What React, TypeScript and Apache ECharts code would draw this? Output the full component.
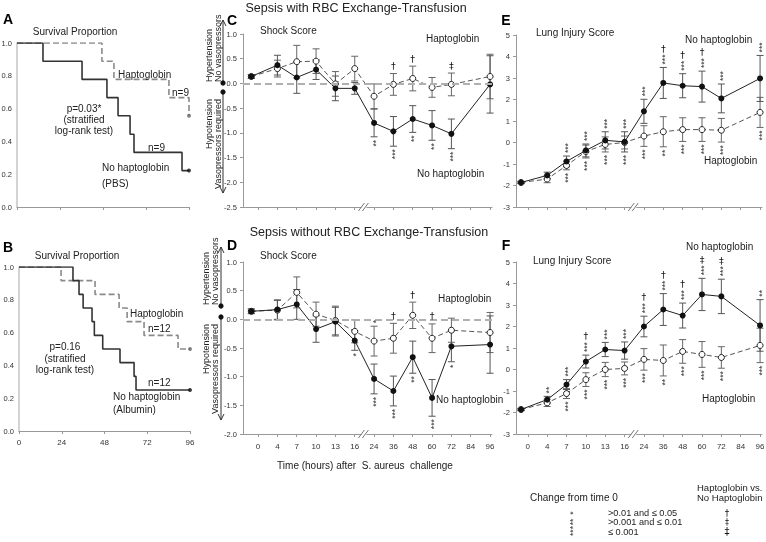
import React, { useEffect, useRef } from 'react';
import * as echarts from 'echarts';

const FONT = '"Liberation Sans", Arial, Helvetica, sans-serif';
const SYM_FONT = '"DejaVu Sans", "Liberation Sans", sans-serif';

// ---------- Survival (Kaplan-Meier) data ----------
const survTicks = [0, 24, 48, 72, 96];
const aNoHpTime = [0, 14.5, 36.3, 50.2, 56.4, 63.1, 65.3, 92.1, 96];
const aNoHpSurv = [1, 0.889, 0.778, 0.667, 0.556, 0.444, 0.333, 0.222, 0.222];
const aHpTime = [0, 47.4, 54.1, 84.8, 96];
const aHpSurv = [1, 0.889, 0.778, 0.667, 0.556];
const bNoHpTime = [0, 30.3, 33.7, 36.0, 41.0, 42.3, 47.0, 56.7, 64.6, 65.7, 96];
const bNoHpSurv = [1, 0.917, 0.833, 0.75, 0.667, 0.583, 0.5, 0.417, 0.333, 0.25, 0.25];
const bHpTime = [0, 23.6, 42.7, 56.2, 60.7, 70.2, 89.3, 96];
const bHpSurv = [1, 0.917, 0.833, 0.75, 0.667, 0.583, 0.5, 0.5];

// ---------- Time course axes ----------
const timeTicks = ['0', '4', '7', '10', '13', '16', '24', '36', '48', '60', '72', '84', '96'];
const sampleHours = ['0', '4', '7', '10', '13', '16', '24', '36', '48', '60', '72', '96'];

// ---------- C: Shock score, with exchange transfusion ----------
const cNoHp = [0.14, 0.37, 0.12, 0.28, -0.10, -0.10, -0.80, -0.97, -0.72, -0.85, -1.02, -0.02];
const cNoHpSE = [0.04, 0.2, 0.32, 0.2, 0.25, 0.12, 0.28, 0.3, 0.27, 0.3, 0.3, 0.58];
const cHp = [0.14, 0.30, 0.44, 0.45, -0.01, 0.30, -0.26, -0.02, 0.10, -0.08, -0.02, 0.14];
const cHpSE = [0.04, 0.17, 0.33, 0.25, 0.25, 0.25, 0.25, 0.22, 0.25, 0.2, 0.23, 0.45];
const cAbove = ['', '', '', '', '', '', '', '†', '†', '', '‡', ''];
const cBelow = ['', '', '', '', '', '', '**', '***', '**', '**', '***', ''];

// ---------- D: Shock score, without exchange transfusion ----------
const dNoHp = [0.14, 0.17, 0.26, -0.17, -0.04, -0.37, -1.04, -1.25, -0.66, -1.37, -0.47, -0.44];
const dNoHpSE = [0.04, 0.17, 0.26, 0.23, 0.25, 0.17, 0.26, 0.26, 0.28, 0.32, 0.27, 0.5];
const dHp = [0.14, 0.16, 0.47, 0.09, -0.02, -0.21, -0.38, -0.33, 0.07, -0.33, -0.19, -0.23];
const dHpSE = [0.04, 0.17, 0.27, 0.21, 0.25, 0.2, 0.26, 0.26, 0.23, 0.25, 0.21, 0.35];
const dAbove = ['', '', '', '', '', '', '*', '†', '†', '†', '', ''];
const dBelow = ['', '', '', '', '', '*', '***', '***', '**', '***', '*', ''];

// ---------- E: Lung injury score, with exchange transfusion ----------
const eNoHp = [-1.86, -1.53, -0.88, -0.37, 0.10, 0.03, 1.45, 2.77, 2.64, 2.60, 2.05, 2.98];
const eNoHpSE = [0.05, 0.15, 0.25, 0.3, 0.4, 0.47, 0.56, 0.72, 0.56, 0.72, 0.67, 1.07];
const eHp = [-1.86, -1.70, -1.07, -0.42, -0.09, 0.0, 0.30, 0.50, 0.60, 0.60, 0.57, 1.40];
const eHpSE = [0.05, 0.17, 0.2, 0.3, 0.35, 0.3, 0.48, 0.7, 0.55, 0.55, 0.55, 0.7];
const eAbove = ['', '', '***', '***', '***', '***', '***', '†***', '†***', '†***', '***', '***'];
const eBelow = ['', '', '***', '***', '***', '***', '***', '**', '***', '***', '***', '***'];

// ---------- F: Lung injury score, without exchange transfusion ----------
const fNoHp = [-1.86, -1.40, -0.70, 0.37, 0.93, 0.88, 2.00, 2.79, 2.51, 3.49, 3.40, 2.05];
const fNoHpSE = [0.05, 0.15, 0.23, 0.3, 0.33, 0.4, 0.48, 0.74, 0.58, 0.75, 0.8, 1.2];
const fHp = [-1.86, -1.55, -1.12, -0.47, 0.0, 0.05, 0.47, 0.42, 0.84, 0.70, 0.56, 1.12];
const fHpSE = [0.05, 0.17, 0.23, 0.32, 0.33, 0.3, 0.5, 0.72, 0.55, 0.6, 0.5, 0.8];
const fAbove = ['', '**', '***', '†***', '***', '***', '†***', '†***', '†***', '‡***', '‡***', '**'];
const fBelow = ['', '', '***', '***', '***', '***', '***', '**', '***', '***', '***', '***'];

// ---------- layout ----------
const BASE_POS = -0.35;
const posOf = (h: string) => (h === '0' ? BASE_POS : timeTicks.indexOf(h));

const GRIDS = [
  { left: 17, top: 43, width: 172, height: 164 }, // A
  { left: 19, top: 267, width: 171, height: 164 }, // B
  { left: 243, top: 34, width: 249, height: 173 }, // C
  { left: 243, top: 262, width: 249, height: 172 }, // D
  { left: 516, top: 35, width: 246, height: 172 }, // E
  { left: 516, top: 262, width: 246, height: 172 }, // F
];
const CD_X = { min: -0.78, max: 12.1 };
const EF_X = { min: -0.61, max: 12.1 };

const PANELS = [
  { gi: 2, noHp: cNoHp, noHpSE: cNoHpSE, hp: cHp, hpSE: cHpSE, above: cAbove, below: cBelow, zero: true },
  { gi: 3, noHp: dNoHp, noHpSE: dNoHpSE, hp: dHp, hpSE: dHpSE, above: dAbove, below: dBelow, zero: true },
  { gi: 4, noHp: eNoHp, noHpSE: eNoHpSE, hp: eHp, hpSE: eHpSE, above: eAbove, below: eBelow, zero: false },
  { gi: 5, noHp: fNoHp, noHpSE: fNoHpSE, hp: fHp, hpSE: fHpSE, above: fAbove, below: fBelow, zero: false },
];

const errRender = (color: string) => (_params: any, api: any) => {
  const x = api.value(0);
  const lo = api.coord([x, api.value(1)]);
  const hi = api.coord([x, api.value(2)]);
  const w = 3.5;
  const style = { stroke: color, lineWidth: 1, fill: 'none' };
  return {
    type: 'group',
    children: [
      { type: 'line', shape: { x1: lo[0], y1: lo[1], x2: hi[0], y2: hi[1] }, style },
      { type: 'line', shape: { x1: lo[0] - w, y1: lo[1], x2: lo[0] + w, y2: lo[1] }, style },
      { type: 'line', shape: { x1: hi[0] - w, y1: hi[1], x2: hi[0] + w, y2: hi[1] }, style },
    ],
  };
};

function panelSeries(p: any) {
  const { gi, noHp, noHpSE, hp, hpSE, zero } = p;
  const xs = sampleHours.map(posOf);
  const out: any[] = [];
  if (zero) {
    out.push({
      type: 'line', xAxisIndex: gi, yAxisIndex: gi,
      data: xs.map((x, i) => [x, hp[i]]),
      showSymbol: false, lineStyle: { opacity: 0 }, silent: true, z: 1,
      markLine: {
        silent: true, symbol: ['none', 'none'], label: { show: false },
        lineStyle: { color: '#b0b0b0', width: 2, type: [7, 4] },
        data: [{ yAxis: 0 }],
      },
    });
  }
  out.push({
    type: 'custom', xAxisIndex: gi, yAxisIndex: gi, renderItem: errRender('#666'),
    data: xs.map((x, i) => [x, hp[i] - hpSE[i], hp[i] + hpSE[i]]),
    encode: { x: 0, y: [1, 2] }, z: 2,
  });
  out.push({
    type: 'custom', xAxisIndex: gi, yAxisIndex: gi, renderItem: errRender('#555'),
    data: xs.map((x, i) => [x, noHp[i] - noHpSE[i], noHp[i] + noHpSE[i]]),
    encode: { x: 0, y: [1, 2] }, z: 2,
  });
  out.push({
    type: 'line', xAxisIndex: gi, yAxisIndex: gi,
    data: xs.map((x, i) => [x, hp[i]]),
    symbol: 'circle', symbolSize: 6,
    lineStyle: { color: '#555', width: 1, type: [5, 3] },
    itemStyle: { color: '#fff', borderColor: '#222', borderWidth: 1 }, z: 3,
  });
  out.push({
    type: 'line', xAxisIndex: gi, yAxisIndex: gi,
    data: xs.map((x, i) => [x, noHp[i]]),
    symbol: 'circle', symbolSize: 6,
    lineStyle: { color: '#222', width: 1 },
    itemStyle: { color: '#111' }, z: 4,
  });
  return out;
}

const kmX = (gi: number, showLabels: boolean) => ({
  type: 'value', gridIndex: gi, min: survTicks[0], max: survTicks[survTicks.length - 1], interval: 24,
  axisLine: { onZero: false, lineStyle: { color: '#999' } },
  axisTick: { show: true, length: 3, lineStyle: { color: '#999' } },
  axisLabel: { show: showLabels, fontSize: 8, color: '#333', margin: 7, fontFamily: FONT },
  splitLine: { show: false },
});
const kmY = (gi: number) => ({
  type: 'value', gridIndex: gi, min: 0, max: 1, interval: 0.2,
  axisLine: { show: true, onZero: false, lineStyle: { color: '#c4c4c4', width: 1.5 } },
  axisTick: { show: false },
  axisLabel: { fontSize: 7.5, color: '#333', margin: 5, fontFamily: FONT, formatter: (v: number) => v.toFixed(1) },
  splitLine: { show: false },
});
const tickIdx = timeTicks.map((_, i) => i);
const tX = (gi: number, r: { min: number; max: number }, showLabels: boolean) => ({
  type: 'value', gridIndex: gi, min: r.min, max: r.max,
  axisLine: { onZero: false, lineStyle: { color: '#999' } },
  axisTick: { show: true, length: 3, customValues: tickIdx, lineStyle: { color: '#999' } },
  axisLabel: {
    show: showLabels, customValues: tickIdx, fontSize: 8, color: '#333', margin: 8, fontFamily: FONT,
    formatter: (v: number) => timeTicks[Math.round(v)] ?? '',
  },
  splitLine: { show: false },
});
const tY = (gi: number, min: number, max: number, interval: number, dec: number) => ({
  type: 'value', gridIndex: gi, min, max, interval,
  axisLine: { show: true, onZero: false, lineStyle: { color: '#999' } },
  axisTick: { show: true, length: 3, lineStyle: { color: '#999' } },
  axisLabel: { fontSize: 7.5, color: '#333', margin: 6, fontFamily: FONT, formatter: (v: number) => v.toFixed(dec) },
  splitLine: { show: false },
});

function kmSeries(gi: number, t: number[], s: number[], color: string, dashed: boolean) {
  return [
    {
      type: 'line', xAxisIndex: gi, yAxisIndex: gi, step: 'end',
      data: t.map((x, i) => [x, s[i]]), showSymbol: false,
      lineStyle: { color, width: 1.6, type: dashed ? [6, 3] : 'solid' }, z: dashed ? 2 : 3,
    },
    {
      type: 'scatter', xAxisIndex: gi, yAxisIndex: gi,
      data: [[t[t.length - 1], s[s.length - 1]]], symbolSize: 4,
      itemStyle: { color: dashed ? '#666' : '#111' }, z: 4,
    },
  ];
}

// ---------- graphic helpers ----------
const txt = (text: string, x: number, y: number, o: any = {}) => ({
  type: 'text', x, y, rotation: o.rot || 0, z: 10,
  style: {
    text, fontSize: o.size || 10, fontFamily: o.family || FONT, fill: o.color || '#222',
    align: o.align || 'left', verticalAlign: 'middle', fontWeight: o.weight || 'normal',
  },
});
const dagger = (d: string, x: number, y: number, size: number) =>
  txt(d, x, y, { size, align: 'center', family: SYM_FONT, color: '#111' });
const seg = (x1: number, y1: number, x2: number, y2: number, color = '#333', w = 1) => ({
  type: 'line', z: 10, shape: { x1, y1, x2, y2 }, style: { stroke: color, lineWidth: w },
});
const dot = (cx: number, cy: number) => ({ type: 'circle', z: 10, shape: { cx, cy, r: 2.6 }, style: { fill: '#111' } });
const arrowHead = (x: number, y: number, up: boolean) => ({
  type: 'polyline', z: 10,
  shape: { points: up ? [[x - 3, y + 6], [x, y], [x + 3, y + 6]] : [[x - 3, y - 6], [x, y], [x + 3, y - 6]] },
  style: { stroke: '#333', lineWidth: 1, fill: 'none' },
});
const STAR_W = 3.4;
const stars = (n: number, x: number, y: number, align: string) =>
  txt('*'.repeat(n), x + 1.5, y, { size: 8.5, rot: Math.PI / 2, align, color: '#333' });

function shockSide(tx1: number, tx2: number, ax: number, upDot: number, upEnd: number, downDot: number, downEnd: number) {
  return [
    txt('Hypertension', tx1, upDot - 1, { size: 9, rot: Math.PI / 2, align: 'left' }),
    txt('No vasopressors', tx2, upDot - 1, { size: 9, rot: Math.PI / 2, align: 'left' }),
    txt('Hypotension', tx1, downDot + 7, { size: 9, rot: Math.PI / 2, align: 'right' }),
    txt('Vasopressors required', tx2, downDot + 7, { size: 9, rot: Math.PI / 2, align: 'right' }),
    seg(ax, upDot, ax, upEnd), arrowHead(ax, upEnd, true),
    seg(ax, downDot, ax, downEnd), arrowHead(ax, downEnd, false),
    dot(ax, upDot), dot(ax, downDot),
  ];
}

function breakMark(gi: number, r: { min: number; max: number }) {
  const g = GRIDS[gi];
  const bx = g.left + ((5.5 - r.min) / (r.max - r.min)) * g.width;
  const y = g.top + g.height;
  return [
    { type: 'rect', z: 9, shape: { x: bx - 3, y: y - 1, width: 5, height: 2 }, style: { fill: '#fff' } },
    seg(bx - 6, y + 4, bx, y - 4, '#777'),
    seg(bx - 2, y + 4, bx + 4, y - 4, '#777'),
  ];
}

function buildGraphics() {
  const g: any[] = [];
  g.push(txt('Sepsis with RBC Exchange-Transfusion', 356, 8, { size: 12.5, align: 'center' }));
  g.push(txt('Sepsis without RBC Exchange-Transfusion', 369, 232, { size: 12.5, align: 'center' }));
  [['A', 8, 19], ['B', 8, 247], ['C', 232, 20], ['D', 232, 245], ['E', 506, 20], ['F', 506, 245]].forEach(
    ([l, x, y]) => g.push(txt(l as string, x as number, y as number, { size: 14, weight: 'bold', align: 'center', color: '#000' }))
  );
  g.push(txt('Survival Proportion', 75, 31, { align: 'center' }));
  g.push(txt('Survival Proportion', 77, 255, { align: 'center' }));
  g.push(txt('Shock Score', 260, 30));
  g.push(txt('Shock Score', 260, 255));
  g.push(txt('Lung Injury Score', 536, 32));
  g.push(txt('Lung Injury Score', 533, 260));
  // Panel A
  g.push(txt('Haptoglobin', 118, 74));
  g.push(txt('n=9', 172, 92));
  g.push(txt('p=0.03*', 84, 108, { align: 'center' }));
  g.push(txt('(stratified', 84, 119, { align: 'center' }));
  g.push(txt('log-rank test)', 84, 130, { align: 'center' }));
  g.push(txt('n=9', 148, 147));
  g.push(txt('No haptoglobin', 102, 167));
  g.push(txt('(PBS)', 102, 183));
  // Panel B
  g.push(txt('p=0.16', 65, 346, { align: 'center' }));
  g.push(txt('(stratified', 65, 358, { align: 'center' }));
  g.push(txt('log-rank test)', 65, 369, { align: 'center' }));
  g.push(txt('Haptoglobin', 130, 313));
  g.push(txt('n=12', 148, 328));
  g.push(txt('n=12', 148, 382));
  g.push(txt('No haptoglobin', 113, 396));
  g.push(txt('(Albumin)', 113, 409));
  // C / D
  g.push(txt('Haptoglobin', 426, 38));
  g.push(txt('No haptoglobin', 417, 173));
  g.push(txt('Haptoglobin', 438, 298));
  g.push(txt('No haptoglobin', 436, 399));
  g.push(txt('Time (hours) after  S. aureus  challenge', 365, 465, { align: 'center' }));
  // E / F
  g.push(txt('No haptoglobin', 685, 39));
  g.push(txt('Haptoglobin', 704, 160));
  g.push(txt('No haptoglobin', 686, 246));
  g.push(txt('Haptoglobin', 702, 398));
  g.push(...shockSide(209, 218, 223, 83, 20, 92, 193));
  g.push(...shockSide(206, 215, 221, 306, 247, 317, 420));
  g.push(...breakMark(2, CD_X), ...breakMark(3, CD_X), ...breakMark(4, EF_X), ...breakMark(5, EF_X));
  // legend
  g.push(txt('Change from time 0', 530, 497));
  g.push(txt('Haptoglobin vs.', 697, 487, { size: 9.5 }));
  g.push(txt('No Haptoglobin', 697, 497, { size: 9.5 }));
  g.push(txt('>0.01 and \u2264 0.05', 608, 512.5, { size: 9.2 }));
  g.push(txt('>0.001 and \u2264 0.01', 608, 522, { size: 9.2 }));
  g.push(txt('\u2264 0.001', 608, 531.5, { size: 9.2 }));
  g.push(stars(1, 571, 513, 'center'));
  g.push(stars(2, 571, 522, 'center'));
  g.push(stars(3, 571, 531, 'center'));
  g.push(dagger('\u2020', 727, 513, 9));
  g.push(dagger('\u2021', 727, 522, 8));
  g.push(dagger('\u2021', 727, 531, 10));
  return g;
}

function buildMarks(chart: any) {
  const g: any[] = [];
  const xs = sampleHours.map(posOf);
  PANELS.forEach((p) => {
    xs.forEach((x, i) => {
      const top = Math.max(p.noHp[i] + p.noHpSE[i], p.hp[i] + p.hpSE[i]);
      const bot = Math.min(p.noHp[i] - p.noHpSE[i], p.hp[i] - p.hpSE[i]);
      const a = p.above[i];
      const b = p.below[i];
      if (a) {
        const pt = chart.convertToPixel({ xAxisIndex: p.gi, yAxisIndex: p.gi }, [x, top]);
        const n = (a.match(/\*/g) || []).length;
        const daggers = a.replace(/\*/g, '');
        let y = pt[1] - 3;
        if (n) {
          g.push(stars(n, pt[0], y, 'left'));
          y -= n * STAR_W + 1;
        }
        for (const d of daggers.split('')) {
          g.push(dagger(d, pt[0], y - 5, 9.5));
          y -= 10;
        }
      }
      if (b) {
        const pt = chart.convertToPixel({ xAxisIndex: p.gi, yAxisIndex: p.gi }, [x, bot]);
        const n = (b.match(/\*/g) || []).length;
        g.push(stars(n, pt[0], pt[1] + 3, 'right'));
      }
    });
  });
  return g;
}

export default function App() {
  const ref = useRef<HTMLDivElement>(null);
  useEffect(() => {
    if (!ref.current) return;
    const chart = echarts.init(ref.current, undefined, { renderer: 'svg' });
    const base = buildGraphics();
    const option: any = {
      animation: false,
      backgroundColor: '#fff',
      textStyle: { fontFamily: FONT },
      grid: GRIDS.map((g) => ({ ...g, containLabel: false, outerBoundsMode: 'none' })),
      xAxis: [kmX(0, false), kmX(1, true), tX(2, CD_X, false), tX(3, CD_X, true), tX(4, EF_X, false), tX(5, EF_X, true)],
      yAxis: [kmY(0), kmY(1), tY(2, -2.5, 1, 0.5, 1), tY(3, -2, 1, 0.5, 1), tY(4, -3, 5, 1, 0), tY(5, -3, 5, 1, 0)],
      series: [
        ...kmSeries(0, aHpTime, aHpSurv, '#8a8a8a', true),
        ...kmSeries(0, aNoHpTime, aNoHpSurv, '#333', false),
        ...kmSeries(1, bHpTime, bHpSurv, '#8a8a8a', true),
        ...kmSeries(1, bNoHpTime, bNoHpSurv, '#333', false),
        ...PANELS.flatMap((p) => panelSeries(p)),
      ],
      graphic: { elements: base },
    };
    chart.setOption(option);
    const marks = buildMarks(chart);
    chart.setOption({ graphic: { elements: [...base, ...marks] } });
    return () => chart.dispose();
  }, []);
  return (
    <div
      ref={ref}
      style={{ position: 'fixed', left: 0, top: 0, width: 766, height: 542, willChange: 'transform' }}
    />
  );
}
